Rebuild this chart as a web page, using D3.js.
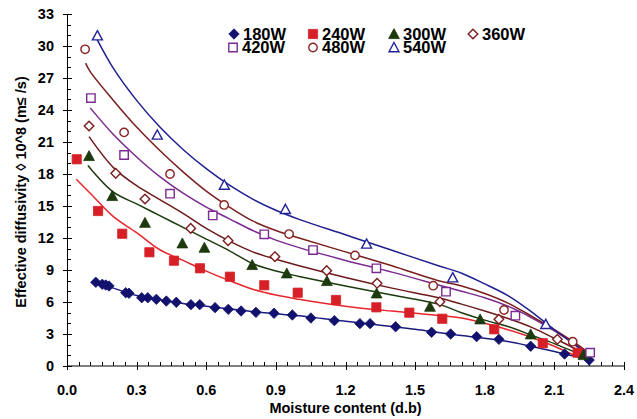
<!DOCTYPE html>
<html><head><meta charset="utf-8">
<script src="https://cdn.jsdelivr.net/npm/d3@7"></script>
<style>
html,body{margin:0;padding:0;background:#fff;}
svg text{font-family:"Liberation Sans",Arial,sans-serif;font-weight:bold;fill:#000;}
</style></head>
<body>
<svg id="chart" width="637" height="419"></svg>
<script>
// ---- data ----
const seriesNames = ["180W","240W","300W","360W","420W","480W","540W"];
const xTicks = [0.0,0.3,0.6,0.9,1.2,1.5,1.8,2.1,2.4];
const yTicks = [0,3,6,9,12,15,18,21,24,27,30,33];

const x180 = [0.124,0.152,0.167,0.181,0.253,0.267,0.322,0.348,0.385,0.428,0.471,0.534,0.572,0.638,0.695,0.75,0.814,0.892,0.971,1.051,1.152,1.262,1.306,1.416,1.571,1.653,1.765,1.861,1.998,2.144,2.25];
const y180 = [7.85,7.66,7.59,7.5,6.87,6.82,6.4,6.4,6.25,6.09,5.97,5.75,5.75,5.47,5.31,5.16,5.03,4.94,4.78,4.5,4.25,3.97,3.97,3.68,3.16,3.0,2.75,2.5,1.85,1.12,0.56];
const x240 = [0.042,0.134,0.238,0.355,0.461,0.573,0.702,0.850,0.994,1.159,1.333,1.475,1.617,1.841,2.05,2.2];
const y240 = [19.38,14.53,12.4,10.66,9.87,9.16,8.37,7.57,6.87,6.19,5.5,5.0,4.43,3.44,2.13,1.25];
const x300 = [0.095,0.195,0.336,0.497,0.592,0.798,0.947,1.12,1.334,1.564,1.78,1.998,2.225];
const y300 = [19.69,15.94,13.43,11.5,11.09,9.47,8.69,7.97,6.81,5.56,4.38,2.97,1.03];
const x360 = [0.095,0.21,0.336,0.533,0.694,0.896,1.119,1.336,1.607,1.861,2.113];
const y360 = [22.5,18.06,15.66,12.9,11.75,10.25,8.94,7.75,6.03,4.38,2.5];
const x420 = [0.103,0.246,0.444,0.628,0.850,1.06,1.333,1.633,1.932,2.254];
const y420 = [25.12,19.78,16.16,14.12,12.34,10.87,9.16,6.97,4.72,1.25];
const x480 = [0.078,0.246,0.444,0.677,0.957,1.241,1.578,1.883,2.179];
const y480 = [29.69,21.9,18.0,15.1,12.37,10.37,7.53,5.25,2.28];
const x540 = [0.131,0.389,0.678,0.941,1.291,1.662,2.063];
const y540 = [30.97,21.66,16.97,14.69,11.44,8.28,3.91];

// fitted curves
const fx180 = [0.12,0.2,0.3,0.4,0.5,0.6,0.7,0.8,0.9,1.0,1.1,1.2,1.3,1.4,1.5,1.6,1.7,1.8,1.9,2.0,2.1,2.2,2.25];
const fy180 = [7.8,7.3,6.6,6.2,5.85,5.6,5.35,5.1,4.9,4.7,4.45,4.2,3.95,3.7,3.45,3.15,2.85,2.6,2.3,1.85,1.35,0.85,0.6];
const fx240 = [0.04,0.1,0.2,0.3,0.4,0.5,0.6,0.7,0.8,0.9,1.0,1.1,1.2,1.3,1.4,1.5,1.6,1.7,1.8,1.9,2.0,2.1,2.2];
const fy240 = [17.5,16.2,14.0,12.5,10.9,9.9,8.9,8.0,7.2,6.65,6.25,5.9,5.6,5.35,5.15,4.95,4.75,4.5,4.0,3.4,2.7,1.85,0.85];
const fx300 = [0.09,0.2,0.3,0.4,0.5,0.6,0.7,0.8,0.9,1.0,1.2,1.4,1.6,1.7,1.8,1.9,2.0,2.1,2.2,2.24];
const fy300 = [18.8,16.3,15.2,14.1,13.0,11.9,10.8,9.6,8.9,8.4,7.5,6.65,5.8,5.0,4.3,3.7,2.9,2.1,1.2,0.9];
const fx360 = [0.095,0.2,0.3,0.4,0.5,0.6,0.7,0.8,0.9,1.0,1.2,1.4,1.6,1.7,1.8,1.9,2.0,2.1,2.2,2.23];
const fy360 = [21.5,18.6,16.9,15.6,14.3,12.9,11.7,10.7,10.0,9.4,8.3,7.3,6.4,5.8,5.15,4.45,3.65,2.6,1.5,1.15];
const fx420 = [0.1,0.2,0.3,0.4,0.5,0.6,0.7,0.8,0.9,1.0,1.2,1.4,1.6,1.7,1.8,1.9,2.0,2.1,2.2,2.25];
const fy420 = [24.2,21.7,19.6,17.75,16.2,14.9,13.8,12.7,11.8,11.1,9.9,8.8,7.6,7.0,6.4,5.6,4.55,3.3,1.9,1.1];
const fx480 = [0.08,0.1,0.2,0.3,0.4,0.5,0.6,0.7,0.8,0.9,1.0,1.2,1.4,1.6,1.7,1.8,1.9,2.0,2.1,2.2,2.24];
const fy480 = [28.4,27.6,24.9,22.4,20.2,18.2,16.4,14.9,13.6,12.7,12.0,10.7,9.4,8.0,7.5,6.8,5.9,4.7,3.4,2.0,1.35];
const fx540 = [0.13,0.2,0.3,0.4,0.5,0.6,0.7,0.8,0.9,1.0,1.2,1.4,1.6,1.7,1.8,1.9,2.0,2.1,2.2,2.24];
const fy540 = [30.6,27.9,24.9,22.4,20.3,18.5,16.95,15.65,14.6,13.75,12.3,10.85,9.4,8.7,7.7,6.6,5.1,3.4,1.8,1.2];

// ---- styles ----
const styles = {
  "180W": {shape:"diamond", fill:true,  color:"#12126e", line:"#1c1c80"},
  "240W": {shape:"square",  fill:true,  color:"#d61f26", line:"#e8262c"},
  "300W": {shape:"triangle",fill:true,  color:"#1d3a0e", line:"#1d3a0e"},
  "360W": {shape:"diamond", fill:false, color:"#7a1c1c", line:"#6e1a1a"},
  "420W": {shape:"square",  fill:false, color:"#7a2a90", line:"#7a2a90"},
  "480W": {shape:"circle",  fill:false, color:"#8a2424", line:"#7a1e1e"},
  "540W": {shape:"triangle",fill:false, color:"#22229a", line:"#1f1f90"}
};
const pts = {"180W":[x180,y180],"240W":[x240,y240],"300W":[x300,y300],"360W":[x360,y360],"420W":[x420,y420],"480W":[x480,y480],"540W":[x540,y540]};
const fits = {"180W":[fx180,fy180],"240W":[fx240,fy240],"300W":[fx300,fy300],"360W":[fx360,fy360],"420W":[fx420,fy420],"480W":[fx480,fy480],"540W":[fx540,fy540]};

const svg = d3.select("#chart");
const x = d3.scaleLinear().domain([0,2.4]).range([67,624]);
const y = d3.scaleLinear().domain([0,33]).range([366,14]);

function shapePath(shape, filled){
  const r = filled ? 4.6 : 4.2;
  if(shape==="diamond") return `M0,${-r-0.6}L${r+0.6},0L0,${r+0.6}L${-r-0.6},0Z`;
  if(shape==="square") return `M${-r},${-r}H${r}V${r}H${-r}Z`;
  if(shape==="triangle") return `M0,${-r-0.8}L${r+0.8},${r}L${-r-0.8},${r}Z`;
  return d3.symbol(d3.symbolCircle, Math.PI*r*r)();
}

// axes
const xAxis = svg.append("g").attr("transform","translate(0,366)");
xAxis.append("line").attr("x1",x(0)).attr("x2",x(2.4)).attr("stroke","#000").attr("stroke-width",1);
const xMinor = d3.range(0,2.4001,0.05);
xAxis.selectAll(".xm").data(xMinor).join("line")
  .attr("x1",d=>Math.round(x(d))+0.5).attr("x2",d=>Math.round(x(d))+0.5)
  .attr("y1",-4).attr("y2",0).attr("stroke","#000");
xAxis.selectAll(".xM").data(xTicks).join("line")
  .attr("x1",d=>Math.round(x(d))+0.5).attr("x2",d=>Math.round(x(d))+0.5)
  .attr("y1",-4).attr("y2",4).attr("stroke","#000");
xAxis.selectAll(".xl").data(xTicks).join("text")
  .attr("x",d=>x(d)).attr("y",29).attr("text-anchor","middle")
  .style("font-size","14.5px").text(d=>d3.format(".1f")(d));

const yAxis = svg.append("g").attr("transform","translate(67,0)");
yAxis.append("line").attr("x1",0.5).attr("x2",0.5).attr("y1",y(33)).attr("y2",y(0)).attr("stroke","#000");
const yMinor = d3.range(0,34,1);
yAxis.selectAll(".ym").data(yMinor).join("line")
  .attr("x1",0).attr("x2",4).attr("y1",d=>Math.round(y(d))+0.5).attr("y2",d=>Math.round(y(d))+0.5).attr("stroke","#000");
yAxis.selectAll(".yM").data(yTicks).join("line")
  .attr("x1",-4).attr("x2",5).attr("y1",d=>Math.round(y(d))+0.5).attr("y2",d=>Math.round(y(d))+0.5).attr("stroke","#000");
yAxis.selectAll(".yl").data(yTicks).join("text")
  .attr("x",-13).attr("y",d=>y(d)).attr("dy","0.36em").attr("text-anchor","end")
  .style("font-size","14.5px").text(d=>d);

// titles
svg.append("text").attr("x",345.5).attr("y",413).attr("text-anchor","middle")
  .style("font-size","14.5px").text("Moisture content (d.b)");
svg.append("text").attr("transform","translate(26,192) rotate(-90)").attr("text-anchor","middle")
  .style("font-size","14.5px").text("Effective diffusivity ◊ 10^8 (m≤ /s)");

// fit lines
const line = d3.line().x(d=>x(d[0])).y(d=>y(d[1])).curve(d3.curveCatmullRom.alpha(0.5));
seriesNames.forEach(s=>{
  const [fx,fy] = fits[s];
  svg.append("path").datum(fx.map((v,i)=>[v,fy[i]]))
    .attr("d",line).attr("fill","none").attr("stroke",styles[s].line).attr("stroke-width",1.5);
});

// markers
seriesNames.forEach(s=>{
  const st = styles[s]; const [xs,ys] = pts[s];
  svg.append("g").selectAll("path").data(xs.map((v,i)=>[v,ys[i]])).join("path")
    .attr("transform",d=>`translate(${x(d[0])},${y(d[1])})`)
    .attr("d",shapePath(st.shape,st.fill))
    .attr("fill",st.fill?st.color:"#fff").attr("stroke",st.color).attr("stroke-width",st.fill?0.8:1.4);
});

// legend
const legendPos = {
  "180W":[234,34],"240W":[313,34],"300W":[394,34],"360W":[473,34],
  "420W":[233,47.5],"480W":[313,47.5],"540W":[394,47.5]
};
seriesNames.forEach(s=>{
  const st = styles[s]; const [lx,ly] = legendPos[s];
  svg.append("path").attr("transform",`translate(${lx},${ly})`).attr("d",shapePath(st.shape,st.fill))
    .attr("fill",st.fill?st.color:"#fff").attr("stroke",st.color).attr("stroke-width",st.fill?0.8:1.4);
  svg.append("text").attr("x",lx+9).attr("y",ly).attr("dy","0.36em")
    .style("font-size","16.5px").text(s);
});
</script>
</body></html>
